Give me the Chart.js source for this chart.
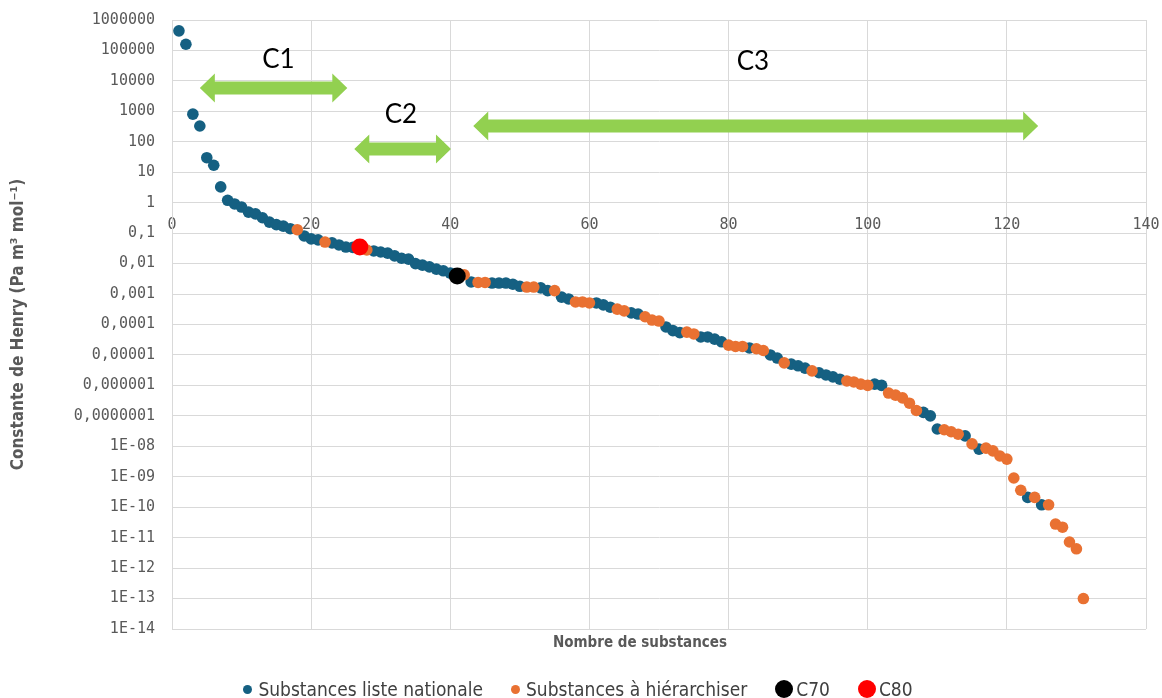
<!DOCTYPE html>
<html lang="fr">
<head>
<meta charset="utf-8">
<title>Constante de Henry</title>
<script src="https://cdn.jsdelivr.net/npm/chart.js@4.4.1/dist/chart.umd.min.js"></script>
<style>
    html, body { margin: 0; padding: 0; background: #fff; }
    #wrap { position: relative; width: 1162px; height: 698px; }
    #graph { position: absolute; left: 0; top: 0; }
    #titreX {
        position: absolute; left: 0; width: 1280px; top: 633px; text-align: center;
        font: bold 15px 'Liberation Sans Narrow', 'DejaVu Sans Condensed', Roboto, sans-serif;
        color: #595959;
    }
    #legende {
        position: absolute; left: 0; width: 1156px; top: 677px; height: 24px;
        display: flex; justify-content: center; align-items: center; gap: 28px;
        font: 19px 'Liberation Sans Narrow', 'DejaVu Sans Condensed', Roboto, sans-serif;
        color: #404040;
    }
    #legende .item { display: flex; align-items: center; }
    #legende .pt { display: inline-block; border-radius: 50%; margin-right: 6px; }
    #legende .petit { width: 9px; height: 9px; }
    #legende .gros { width: 18px; height: 18px; margin-right: 3px; }
</style>
</head>
<body>
<div id="wrap">
    <canvas id="graph" width="1162" height="698"></canvas>
    <div id="titreX">Nombre de substances</div>
    <div id="legende">
        <div class="item"><span class="pt petit" style="background:#156082"></span>Substances liste nationale</div>
        <div class="item"><span class="pt petit" style="background:#E97132"></span>Substances à hiérarchiser</div>
        <div class="item"><span class="pt gros" style="background:#000"></span>C70</div>
        <div class="item"><span class="pt gros" style="background:#FF0000"></span>C80</div>
    </div>
</div>
<script>
// --- données (rang 1..131, Pa m3 mol-1) ---
const kHenry = [
    4.4e5, 1.6e5, 810, 330, 30, 17, 3.3, 1.2, 0.91, 0.72,
    0.49, 0.43, 0.32, 0.23, 0.19, 0.17, 0.14, 0.13, 0.081, 0.065,
    0.060, 0.051, 0.048, 0.041, 0.035, 0.034, 0.032, 0.028, 0.026, 0.024,
    0.022, 0.018, 0.015, 0.014, 0.010, 0.0089, 0.0078, 0.0066, 0.0058, 0.0049,
    0.0042, 0.0043, 0.0025, 0.0024, 0.0024, 0.0023, 0.0023, 0.0023, 0.0021, 0.0018,
    0.0017, 0.0017, 0.0016, 0.0013, 0.0013, 7.9e-4, 6.9e-4, 5.5e-4, 5.5e-4, 5.1e-4,
    5.1e-4, 4.4e-4, 3.7e-4, 3.2e-4, 2.8e-4, 2.4e-4, 2.2e-4, 1.8e-4, 1.4e-4, 1.3e-4,
    8.3e-5, 6.3e-5, 5.4e-5, 5.6e-5, 4.9e-5, 3.9e-5, 3.9e-5, 3.3e-5, 2.7e-5, 2.1e-5,
    1.9e-5, 1.9e-5, 1.7e-5, 1.6e-5, 1.4e-5, 1.0e-5, 7.9e-6, 5.5e-6, 5.0e-6, 4.4e-6,
    3.7e-6, 3.0e-6, 2.6e-6, 2.2e-6, 1.9e-6, 1.6e-6, 1.4e-6, 1.3e-6, 1.1e-6, 1.0e-6,
    1.1e-6, 1.0e-6, 5.6e-7, 4.8e-7, 3.9e-7, 2.6e-7, 1.5e-7, 1.3e-7, 1.0e-7, 3.7e-8,
    3.5e-8, 3.0e-8, 2.5e-8, 2.2e-8, 1.2e-8, 8.1e-9, 8.7e-9, 7.1e-9, 4.8e-9, 3.8e-9,
    9.1e-10, 3.6e-10, 2.1e-10, 2.1e-10, 1.2e-10, 1.2e-10, 2.8e-11, 2.2e-11, 7.2e-12, 4.3e-12,
    1.0e-13
];

// N = liste nationale, H = à hiérarchiser
const liste = [
    'N','N','N','N','N','N','N','N','N','N',
    'N','N','N','N','N','N','N','H','N','N',
    'N','H','N','N','N','N','N','H','N','N',
    'N','N','N','N','N','N','N','N','N','N',
    'N','H','N','H','H','N','N','N','N','N',
    'H','H','N','N','H','N','N','H','H','H',
    'N','N','N','H','H','N','N','H','H','H',
    'N','N','N','H','H','N','N','N','N','H',
    'H','H','N','H','H','N','N','H','N','N',
    'N','H','N','N','N','N','H','H','H','H',
    'N','N','H','H','H','H','H','N','N','N',
    'H','H','H','N','H','N','H','H','H','H',
    'H','H','N','H','N','H','H','H','H','H',
    'H'
];

const c70 = [{ x: 41, y: 0.0039 }];
const c80 = [{ x: 27, y: 0.035 }];

// graduations de l'axe vertical (une par décade)
const graduations = [1e6, 1e5, 1e4, 1e3, 100, 10, 1, 0.1, 0.01, 1e-3, 1e-4, 1e-5, 1e-6, 1e-7,
    1e-8, 1e-9, 1e-10, 1e-11, 1e-12, 1e-13, 1e-14];
const xGraduations = [0, 20, 40, 60, 80, 100, 120, 140];

// flèches des classes C1, C2, C3 (coordonnées du graphique)
const classes = [
    { nom: 'C1', debut: 4.0, fin: 25.2, niveau: 5800, texteX: 15.3, texteY: 49000 },
    { nom: 'C2', debut: 26.2, fin: 40.1, niveau: 58, texteX: 32.9, texteY: 760 },
    { nom: 'C3', debut: 43.3, fin: 124.5, niveau: 330, texteX: 83.5, texteY: 42000 }
];

const COULEURS = {
    nationale: '#156082',
    hierarchiser: '#E97132',
    grille: '#d9d9d9',
    texte: '#595959',
    fleche: '#92D050'
};

const points = kHenry.map((k, i) => ({ x: i + 1, y: k, g: liste[i] }));
const ptsNationale = points.filter(p => p.g === 'N');
const ptsHierarchiser = points.filter(p => p.g === 'H');

function formatHenry(v) {
    const e = Math.round(Math.log10(v));
    if (e >= 0) return '1' + '0'.repeat(e);
    if (e >= -7) return '0,' + '0'.repeat(-e - 1) + '1';
    return '1E-' + String(-e).padStart(2, '0');
}

const flechesPlugin = {
    id: 'fleches',
    afterDatasetsDraw(chart) {
        const { ctx, scales: { x, y } } = chart;
        classes.forEach(c => {
            const x1 = x.getPixelForValue(c.debut);
            const x2 = x.getPixelForValue(c.fin);
            const yy = y.getPixelForValue(c.niveau);
            const tete = 15, demi = 14.5, corps = 6.5;
            ctx.save();
            ctx.fillStyle = COULEURS.fleche;
            ctx.beginPath();
            ctx.moveTo(x1, yy);
            ctx.lineTo(x1 + tete, yy - demi);
            ctx.lineTo(x1 + tete, yy - corps);
            ctx.lineTo(x2 - tete, yy - corps);
            ctx.lineTo(x2 - tete, yy - demi);
            ctx.lineTo(x2, yy);
            ctx.lineTo(x2 - tete, yy + demi);
            ctx.lineTo(x2 - tete, yy + corps);
            ctx.lineTo(x1 + tete, yy + corps);
            ctx.lineTo(x1 + tete, yy + demi);
            ctx.closePath();
            ctx.fill();
            ctx.fillStyle = '#000';
            ctx.font = '26px Lato, "Open Sans", sans-serif';
            ctx.textAlign = 'center';
            ctx.textBaseline = 'middle';
            ctx.fillText(c.nom, x.getPixelForValue(c.texteX), y.getPixelForValue(c.texteY));
            ctx.restore();
        });
    }
};

const policeTicks = { family: "'DejaVu Sans Mono', monospace", size: 15 };

new Chart(document.getElementById('graph'), {
    type: 'scatter',
    data: {
        datasets: [
            {
                label: 'C80', data: c80, order: 1,
                backgroundColor: '#FF0000', borderWidth: 0, pointRadius: 8.5
            },
            {
                label: 'C70', data: c70, order: 2,
                backgroundColor: '#000000', borderWidth: 0, pointRadius: 8.5
            },
            {
                label: 'Substances à hiérarchiser', data: ptsHierarchiser, order: 3,
                backgroundColor: COULEURS.hierarchiser, borderWidth: 0, pointRadius: 5.8
            },
            {
                label: 'Substances liste nationale', data: ptsNationale, order: 4,
                backgroundColor: COULEURS.nationale, borderWidth: 0, pointRadius: 5.8
            }
        ]
    },
    options: {
        responsive: false,
        animation: false,
        layout: { padding: { left: 0, right: 16, top: 20, bottom: 69 } },
        plugins: {
            legend: { display: false },
            tooltip: { enabled: false }
        },
        scales: {
            x: {
                type: 'linear',
                min: 0, max: 140,
                position: { y: 1 },
                afterBuildTicks: s => { s.ticks = xGraduations.map(v => ({ value: v })); },
                afterFit: s => { s.paddingLeft = 0; s.paddingRight = 0; },
                grid: { color: COULEURS.grille, drawTicks: false },
                border: { color: COULEURS.grille },
                ticks: { color: COULEURS.texte, font: policeTicks, padding: 13, maxRotation: 0 }
            },
            y: {
                type: 'logarithmic',
                min: 1e-14, max: 1e6,
                afterBuildTicks: s => { s.ticks = graduations.map(v => ({ value: v })); },
                afterFit: s => { s.width = 172; s.paddingTop = 0; s.paddingBottom = 0; },
                grid: { color: COULEURS.grille, drawTicks: false },
                border: { color: COULEURS.grille },
                ticks: {
                    color: COULEURS.texte, font: policeTicks, padding: 17,
                    autoSkip: false, callback: v => formatHenry(v)
                },
                title: {
                    display: true,
                    text: 'Constante de Henry (Pa m³ mol⁻¹)',
                    color: COULEURS.texte,
                    font: { family: "'Liberation Sans Narrow', 'DejaVu Sans Condensed', Roboto, sans-serif", size: 17, weight: 'bold' },
                    padding: { top: 8, bottom: 0 }
                }
            }
        }
    },
    plugins: [flechesPlugin]
});
</script>
</body>
</html>
